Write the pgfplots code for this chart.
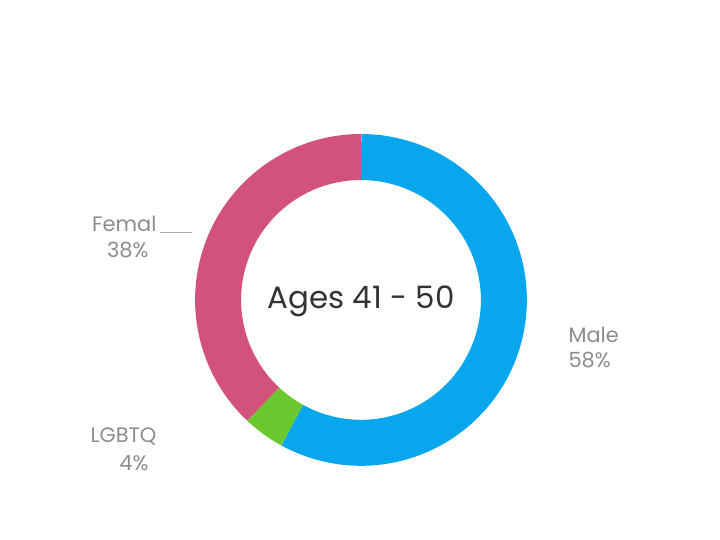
\documentclass[border=0pt]{standalone}
\usepackage{fontspec}
\setmainfont{Poppins}
\usepackage{pgfplots}
\pgfplotsset{compat=1.18}
\definecolor{maleblue}{RGB}{8,166,236}
\definecolor{fempink}{RGB}{210,82,124}
\definecolor{lgbtgreen}{RGB}{106,200,46}
\definecolor{labelgray}{RGB}{140,140,140}

% shares in percent
\pgfmathsetmacro{\male}{58}
\pgfmathsetmacro{\lgbt}{4}
\pgfmathsetmacro{\fem}{38}
% clockwise from 12 o'clock
\pgfmathsetmacro{\aA}{90}
\pgfmathsetmacro{\aB}{90-3.6*\male}
\pgfmathsetmacro{\aC}{\aB-3.6*\lgbt}
\pgfmathsetmacro{\aD}{\aC-3.6*\fem}

\tikzset{lbl/.style={font=\fontsize{21}{24}\selectfont, text=labelgray}}

\begin{document}
\begin{tikzpicture}
\begin{axis}[
    hide axis,
    x=166bp, y=166bp,
    xmin=-2.175, xmax=2.163,
    ymin=-1.446, ymax=1.807,
    clip=false,
    ring/.style={line width=46bp, samples=120, no markers},
]
% keep the whole axis area as the page
\path (rel axis cs:0,0) rectangle (rel axis cs:1,1);

\addplot[ring, maleblue, domain=\aB:\aA] ({0.861*cos(x)},{0.861*sin(x)});
\addplot[ring, lgbtgreen, domain=\aC:\aB] ({0.861*cos(x)},{0.861*sin(x)});
\addplot[ring, fempink, domain=\aD:\aC] ({0.861*cos(x)},{0.861*sin(x)});

\addplot[labelgray!70, line width=0.8bp] coordinates {(-1.211,0.404) (-1.018,0.404)};

\node[font=\fontsize{31}{36}\selectfont, text=black!80] at (axis cs:0,-0.01) {Ages 41 - 50};

\node[anchor=east, lbl] at (axis cs:-1.211,0.458) {Femal};
\node[anchor=east, lbl] at (axis cs:-1.259,0.301) {38\%};
\node[anchor=west, lbl] at (axis cs:1.229,-0.211) {Male};
\node[anchor=west, lbl] at (axis cs:1.229,-0.361) {58\%};
\node[anchor=east, lbl] at (axis cs:-1.211,-0.825) {LGBTQ};
\node[anchor=east, lbl] at (axis cs:-1.259,-0.982) {4\%};
\end{axis}
\end{tikzpicture}
\end{document}
